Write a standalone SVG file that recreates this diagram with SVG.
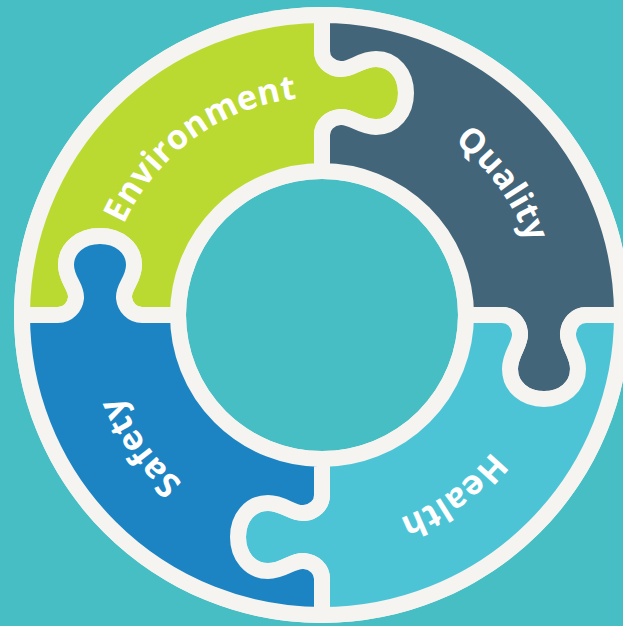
<svg xmlns="http://www.w3.org/2000/svg" width="623" height="626" viewBox="0 0 623 626">
  <style>
    .piece { stroke: #F5F4F0; stroke-width: 16; stroke-linejoin: round; }
    .label { font-family: "Open Sans", "Liberation Sans", sans-serif; font-weight: 700; font-size: 34px; fill: #FFFFFF; letter-spacing: 0.3px; }
  </style>
  <defs>
    <path id="arcEnv" d="M 126.1,410.6 A 218 218 0 0 1 473.4,158.2" fill="none"/>
    <path id="arcQual" d="M 226.4,119.1 A 218 218 0 0 1 478.8,466.4" fill="none"/>
    <path id="arcHealth" d="M 517.9,219.4 A 218 218 0 0 1 170.6,471.8" fill="none"/>
    <path id="arcSafety" d="M 417.6,510.9 A 218 218 0 0 1 165.2,163.6" fill="none"/>
  </defs>
  <rect x="0" y="0" width="623" height="626" fill="#46BEC4"/>
  <circle cx="322" cy="315" r="308" fill="#F5F4F0"/>
  <circle cx="322" cy="315" r="136" fill="#46BEC4"/>

  <g id="environment">
    <path class="piece" fill="#BBDA31" d="M 22,315 A 300 300 0 0 1 322,15 L 322,51 C 322,61 330,68 340,69 C 352,70 360,59 376,59 C 394,59 406,74 406,93 C 406,112 394,127 376,127 C 360,127 352,116 340,117 C 330,118 322,125 322,135 L 322,171 A 144 144 0 0 0 178,315 L 142,315 C 132,315 125,307 124,298 C 123,287 134,280 134,265 C 134,248 119,236 100,236 C 81,236 66,248 66,265 C 66,280 77,287 76,298 C 75,307 68,315 58,315 Z"/>
    <text class="label"><textPath href="#arcEnv" startOffset="50%" text-anchor="middle">Environment</textPath></text>
  </g>

  <g id="quality">
    <path class="piece" fill="#43657A" d="M 322,15 A 300 300 0 0 1 622,315 L 586,315 C 576,315 569,323 568,333 C 567,345 578,353 578,369 C 578,387 563,399 544,399 C 525,399 510,387 510,369 C 510,353 521,345 520,333 C 519,323 512,315 502,315 L 466,315 A 144 144 0 0 0 322,171 L 322,135 C 322,125 330,118 340,117 C 352,116 360,127 376,127 C 394,127 406,112 406,93 C 406,74 394,59 376,59 C 360,59 352,70 340,69 C 330,68 322,61 322,51 Z"/>
    <text class="label"><textPath href="#arcQual" startOffset="50%" text-anchor="middle">Quality</textPath></text>
  </g>

  <g id="health">
    <path class="piece" fill="#4DC4D6" d="M 622,315 A 300 300 0 0 1 322,615 L 322,579 C 322,569 314,562 304,561 C 292,560 284,571 268,571 C 250,571 238,556 238,537 C 238,518 250,503 268,503 C 284,503 292,514 304,513 C 314,512 322,505 322,495 L 322,459 A 144 144 0 0 0 466,315 L 502,315 C 512,315 519,323 520,333 C 521,345 510,353 510,369 C 510,387 525,399 544,399 C 563,399 578,387 578,369 C 578,353 567,345 568,333 C 569,323 576,315 586,315 Z"/>
    <text class="label"><textPath href="#arcHealth" startOffset="50%" text-anchor="middle">Health</textPath></text>
  </g>

  <g id="safety">
    <path class="piece" fill="#1C84C3" d="M 322,615 A 300 300 0 0 1 22,315 L 58,315 C 68,315 75,307 76,298 C 77,287 66,280 66,265 C 66,248 81,236 100,236 C 119,236 134,248 134,265 C 134,280 123,287 124,298 C 125,307 132,315 142,315 L 178,315 A 144 144 0 0 0 322,459 L 322,495 C 322,505 314,512 304,513 C 292,514 284,503 268,503 C 250,503 238,518 238,537 C 238,556 250,571 268,571 C 284,571 292,560 304,561 C 314,562 322,569 322,579 Z"/>
    <text class="label"><textPath href="#arcSafety" startOffset="50%" text-anchor="middle">Safety</textPath></text>
  </g>
</svg>
